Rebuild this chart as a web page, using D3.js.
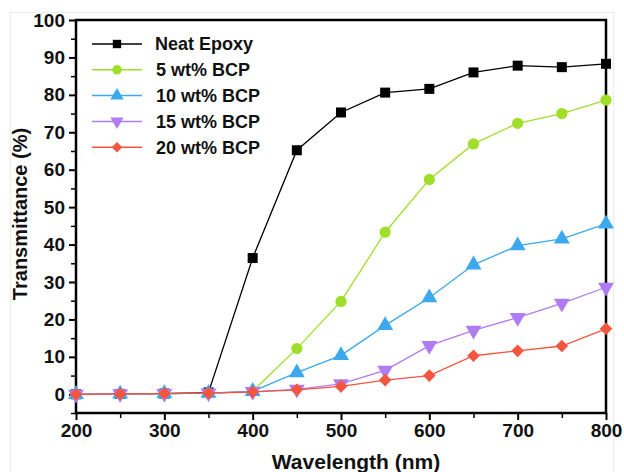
<!DOCTYPE html>
<html>
<head>
<meta charset="utf-8">
<script src="https://cdn.jsdelivr.net/npm/d3@7"></script>
<style>
  body { margin: 0; background: #fff; }
  text { font-family: 'Liberation Sans', Arial, sans-serif; font-weight: bold; fill: #111; }
</style>
</head>
<body>
<div id="chart"></div>
<script>
// Data
const wavelengths = [200, 250, 300, 350, 400, 450, 500, 550, 600, 650, 700, 750, 800];
const neatEpoxy = [0, 0.1, 0.2, 0.5, 36.4, 65.2, 75.3, 80.6, 81.6, 86.0, 87.8, 87.4, 88.3];
const bcp5 = [0, 0.1, 0.2, 0.3, 0.8, 12.2, 24.8, 43.3, 57.4, 66.9, 72.4, 75.0, 78.6];
const bcp10 = [0, 0.1, 0.2, 0.3, 0.8, 5.8, 10.4, 18.4, 25.8, 34.6, 39.7, 41.5, 45.5];
const bcp15 = [0, 0.1, 0.2, 0.3, 0.7, 1.3, 2.8, 6.4, 13.0, 17.1, 20.5, 24.3, 28.6];
const bcp20 = [0, 0.1, 0.2, 0.3, 0.6, 1.2, 2.1, 3.8, 5.0, 10.3, 11.6, 12.9, 17.5];
const seriesNames = ['Neat Epoxy', '5 wt% BCP', '10 wt% BCP', '15 wt% BCP', '20 wt% BCP'];
const seriesColors = ['#000000', '#9fdf2a', '#3ca8ee', '#b07cf2', '#f4553f'];
const seriesShapes = ['square', 'circle', 'triangle', 'triangleDown', 'diamond'];
const xTicks = [200, 300, 400, 500, 600, 700, 800];
const yTicks = [0, 10, 20, 30, 40, 50, 60, 70, 80, 90, 100];

const series = [neatEpoxy, bcp5, bcp10, bcp15, bcp20].map((vals, i) => ({
  name: seriesNames[i],
  color: seriesColors[i],
  shape: seriesShapes[i],
  values: vals.map((v, j) => ({ x: wavelengths[j], y: v })),
}));

const W = 624;
const H = 472;
const margin = { top: 20, right: 18, bottom: 59, left: 76 };
const width = W - margin.left - margin.right;
const height = H - margin.top - margin.bottom;

const svg = d3.select('#chart')
  .append('svg')
  .attr('width', W)
  .attr('height', H);

// faint outer frame of the picture
svg.append('rect')
  .attr('x', 10.5).attr('y', 12.5)
  .attr('width', 603).attr('height', 470)
  .attr('fill', 'none')
  .attr('stroke', '#ececec');

const g = svg.append('g')
  .attr('transform', `translate(${margin.left}, ${margin.top})`);

const x = d3.scaleLinear().domain([200, 800]).range([0, width]);
const y = d3.scaleLinear().domain([-5, 100]).range([height, 0]);

// minor ticks
g.append('g')
  .attr('transform', `translate(0, ${height})`)
  .call(d3.axisBottom(x).tickValues(d3.range(250, 800, 100)).tickSize(5).tickFormat(''))
  .call(a => a.select('.domain').remove())
  .selectAll('line').attr('stroke', '#000').attr('stroke-width', 1.5);

g.append('g')
  .call(d3.axisLeft(y).tickValues(d3.range(5, 100, 10).concat([-5])).tickSize(5).tickFormat(''))
  .call(a => a.select('.domain').remove())
  .selectAll('line').attr('stroke', '#000').attr('stroke-width', 1.5);

// major axes
const xAxis = g.append('g')
  .attr('transform', `translate(0, ${height})`)
  .call(d3.axisBottom(x).tickValues(xTicks).tickSize(7).tickPadding(4));

const yAxis = g.append('g')
  .call(d3.axisLeft(y).tickValues(yTicks).tickSize(7).tickPadding(4));

[xAxis, yAxis].forEach(a => {
  a.select('.domain').remove();
  a.selectAll('line').attr('stroke', '#000').attr('stroke-width', 2);
  a.selectAll('text')
    .style('font-family', "'Liberation Sans', Arial, sans-serif")
    .style('font-weight', 'bold')
    .style('font-size', '19px')
    .attr('fill', '#111');
});

// frame
g.append('rect')
  .attr('width', width)
  .attr('height', height)
  .attr('fill', 'none')
  .attr('stroke', '#000')
  .attr('stroke-width', 2.5);

const symbolFor = (shape, size) => {
  if (shape === 'square') return d3.symbol(d3.symbolSquare, size)();
  if (shape === 'circle') return d3.symbol(d3.symbolCircle, size)();
  if (shape === 'triangle') return d3.symbol(d3.symbolTriangle, size * 1.1)();
  if (shape === 'triangleDown') return d3.symbol(d3.symbolTriangle, size * 1.1)();
  // diamond drawn as a square turned 45 degrees
  return d3.symbol(d3.symbolSquare, size * 0.8)();
};

const rot = shape => {
  if (shape === 'triangleDown') return ' rotate(180)';
  if (shape === 'diamond') return ' rotate(45)';
  return '';
};

const line = d3.line().x(d => x(d.x)).y(d => y(d.y));

series.forEach(s => {
  g.append('path')
    .datum(s.values)
    .attr('fill', 'none')
    .attr('stroke', s.color)
    .attr('stroke-width', 1.3)
    .attr('d', line);

  g.selectAll(null)
    .data(s.values)
    .enter()
    .append('path')
    .attr('d', symbolFor(s.shape, 100))
    .attr('transform', d => `translate(${x(d.x)}, ${y(d.y)})${rot(s.shape)}`)
    .attr('fill', s.color);
});

// legend
const legend = svg.append('g').attr('transform', 'translate(92, 44)');
series.forEach((s, i) => {
  const row = legend.append('g').attr('transform', `translate(0, ${i * 25.8})`);
  row.append('line')
    .attr('x1', 0).attr('x2', 50)
    .attr('stroke', s.color)
    .attr('stroke-width', 1.5);
  row.append('path')
    .attr('d', symbolFor(s.shape, 70))
    .attr('transform', `translate(25, 0)${rot(s.shape)}`)
    .attr('fill', s.color);
  row.append('text')
    .attr('x', i === 0 ? 63 : 64)
    .attr('dy', '0.35em')
    .style('font-size', '18px')
    .text(s.name);
});

// axis titles
svg.append('text')
  .attr('x', margin.left + width / 2 + 15)
  .attr('y', 469)
  .attr('text-anchor', 'middle')
  .style('font-size', '21px')
  .text('Wavelength (nm)');

svg.append('text')
  .attr('transform', `translate(27, 214) rotate(-90)`)
  .attr('text-anchor', 'middle')
  .style('font-size', '20px')
  .text('Transmittance (%)');
</script>
</body>
</html>
